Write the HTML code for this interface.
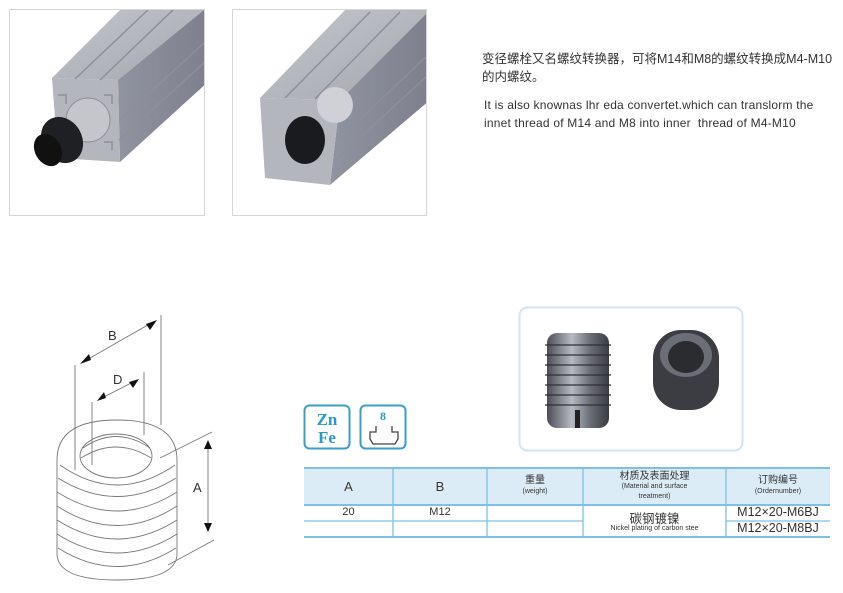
<!DOCTYPE html>
<html><head><meta charset="utf-8"><style>
body{margin:0;width:843px;height:593px;background:#fff;position:relative;overflow:hidden;font-family:"Liberation Sans","Noto Sans CJK SC",sans-serif;}
.t{position:absolute;color:#333;white-space:nowrap}
</style></head><body>
<svg width="843" height="593" style="position:absolute;left:0;top:0">
<defs>
<linearGradient id="g1" x1="0" y1="0" x2="1" y2="1"><stop offset="0" stop-color="#c4c7cd"/><stop offset="1" stop-color="#a3a6ae"/></linearGradient>
<linearGradient id="g2" x1="0" y1="0" x2="1" y2="0"><stop offset="0" stop-color="#9093a0"/><stop offset="1" stop-color="#7d808c"/></linearGradient>
<linearGradient id="sc" x1="0" y1="0" x2="1" y2="0"><stop offset="0" stop-color="#4a4d55"/><stop offset=".4" stop-color="#b7bac2"/><stop offset=".7" stop-color="#6a6d75"/><stop offset="1" stop-color="#3a3c42"/></linearGradient>
<clipPath id="c1"><rect x="10" y="10" width="194" height="205"/></clipPath>
<clipPath id="c2"><rect x="233" y="10" width="193" height="205"/></clipPath>
</defs>
<rect x="9.5" y="9.5" width="195" height="206" fill="#fff" stroke="#d6d6d6"/>
<rect x="232.5" y="9.5" width="194" height="206" fill="#fff" stroke="#d6d6d6"/>
<g clip-path="url(#c1)">
<polygon points="52,78 125,5 210,5 118,80" fill="url(#g1)"/>
<polygon points="118,80 210,5 210,80 120,162" fill="url(#g2)"/>
<polygon points="52,78 118,80 120,162 58,158" fill="#b3b6bc"/>
<g stroke="#8d9098" stroke-width="1.5" fill="none">
<line x1="75" y1="79" x2="150" y2="8"/><line x1="100" y1="80" x2="175" y2="8"/>
<line x1="120" y1="120" x2="205" y2="42"/><line x1="119" y1="140" x2="205" y2="62"/>
<polyline points="58,95 66,95 66,104"/><polyline points="104,95 112,95 112,104"/><polyline points="60,142 68,142 68,150"/><polyline points="104,142 112,142 112,150"/>
</g>
<circle cx="88" cy="120" r="22" fill="#c4c6cc" stroke="#8d9098"/>
<ellipse cx="62" cy="140" rx="20" ry="24" fill="#1f2024" transform="rotate(-30 62 140)"/>
<ellipse cx="48" cy="150" rx="13" ry="17" fill="#111" transform="rotate(-30 48 150)"/>
</g>
<g clip-path="url(#c2)">
<polygon points="260,98 345,10 430,10 340,100" fill="url(#g1)"/>
<polygon points="340,100 430,10 430,100 330,185" fill="url(#g2)"/>
<polygon points="260,98 340,100 330,185 265,178" fill="#b3b6bc"/>
<g stroke="#8d9098" stroke-width="1.5" fill="none">
<line x1="285" y1="98" x2="370" y2="12"/><line x1="315" y1="99" x2="400" y2="12"/>
<line x1="338" y1="140" x2="428" y2="55"/><line x1="336" y1="160" x2="428" y2="75"/>
</g>
<circle cx="335" cy="105" r="18" fill="#cfd1d6"/>
<ellipse cx="305" cy="140" rx="20" ry="24" fill="#1a1b1f"/>
</g>
<rect x="519.5" y="307.5" width="223" height="143" rx="8" fill="#fff" stroke="#cfe6f2" stroke-width="2"/>
<rect x="547" y="333" width="62" height="95" rx="10" fill="url(#sc)"/>
<g stroke="#2c2e33" stroke-width="2" opacity=".6">
<line x1="545" y1="345" x2="611" y2="345"/><line x1="545" y1="355" x2="611" y2="355"/><line x1="545" y1="365" x2="611" y2="365"/><line x1="545" y1="375" x2="611" y2="375"/><line x1="545" y1="385" x2="611" y2="385"/><line x1="545" y1="395" x2="611" y2="395"/><line x1="545" y1="405" x2="611" y2="405"/></g>
<rect x="575" y="410" width="5" height="18" fill="#222"/>
<rect x="653" y="330" width="66" height="80" rx="28" fill="#3b3d43"/>
<ellipse cx="686" cy="355" rx="26" ry="22" fill="#6b6e76"/>
<ellipse cx="686" cy="357" rx="18" ry="16" fill="#2a2c30"/>
<rect x="304.5" y="405.5" width="45" height="43" rx="5" fill="#fff" stroke="#3a9fc8" stroke-width="2"/>
<text x="327" y="425" text-anchor="middle" font-family="Liberation Serif,serif" font-weight="bold" font-size="17" fill="#2a9bc8">Zn</text>
<text x="327" y="443" text-anchor="middle" font-family="Liberation Serif,serif" font-weight="bold" font-size="17" fill="#2a9bc8">Fe</text>
<rect x="360.5" y="405.5" width="45" height="43" rx="5" fill="#fff" stroke="#3a9fc8" stroke-width="2"/>
<text x="383" y="420" text-anchor="middle" font-family="Liberation Serif,serif" font-weight="bold" font-size="12" fill="#2a9bc8">8</text>
<path d="M376 426 v6 h-6 v7 l3 5 h22 l3 -5 v-7 h-6 v-6" fill="none" stroke="#444" stroke-width="1.3"/>
<rect x="304" y="468" width="526" height="37" fill="#dcecf7"/>
<g stroke="#7cc0e4" stroke-width="1.3">
<line x1="304" y1="468" x2="830" y2="468" stroke-width="2"/>
<line x1="304" y1="505" x2="830" y2="505" stroke-width="2"/>
<line x1="304" y1="521" x2="583" y2="521"/>
<line x1="726" y1="521" x2="830" y2="521"/>
<line x1="304" y1="537" x2="830" y2="537" stroke-width="2"/>
<line x1="393" y1="468" x2="393" y2="537"/><line x1="487" y1="468" x2="487" y2="537"/><line x1="583" y1="468" x2="583" y2="537"/><line x1="726" y1="468" x2="726" y2="537"/>
</g>
<g fill="none" stroke="#777" stroke-width="0.9">
<path d="M57 460 Q57 420 117 420 Q177 420 177 460 L177 555 Q175 580 117 580 Q59 580 57 555 Z" fill="#fff"/>
<path d="M60 465 Q117 505 175 465"/><path d="M58 478 Q117 515 176 478"/><path d="M57 492 Q117 530 177 492"/><path d="M57 506 Q117 545 177 506"/><path d="M57 520 Q117 558 177 520"/><path d="M57 534 Q117 572 177 534"/><path d="M58 548 Q117 585 176 548"/>
<ellipse cx="116" cy="456" rx="36" ry="22"/>
<path d="M83 448 Q116 425 150 448"/><path d="M81 458 Q116 436 151 458"/>
<line x1="75" y1="365" x2="75" y2="470"/><line x1="161" y1="315" x2="161" y2="425"/>
<line x1="92" y1="402" x2="92" y2="465"/><line x1="144" y1="372" x2="144" y2="435"/>
<line x1="83" y1="362" x2="153" y2="322"/><line x1="100" y1="399" x2="135" y2="381"/>
<line x1="160" y1="458" x2="212" y2="432"/><line x1="168" y1="565" x2="214" y2="540"/>
<line x1="208" y1="442" x2="208" y2="530"/>
</g>
<g fill="#111">
<polygon points="80,364 89,354 91,360"/><polygon points="157,320 146,324 150,330"/>
<polygon points="97,401 104,392 106,398"/><polygon points="139,379 129,382 133,388"/>
<polygon points="208,440 204,449 212,449"/><polygon points="208,532 204,523 212,523"/>
</g>
<text x="108" y="340" font-size="13" fill="#333" font-family="Liberation Sans,sans-serif">B</text>
<text x="113" y="384" font-size="13" fill="#333" font-family="Liberation Sans,sans-serif">D</text>
<text x="193" y="492" font-size="13" fill="#333" font-family="Liberation Sans,sans-serif">A</text>
</svg>
<div class="t" style="left:482px;top:50px;font-size:12.5px;line-height:18px;">变径螺栓又名螺纹转换器，可将M14和M8的螺纹转换成M4-M10<br>的内螺纹。</div>
<div class="t" style="left:484px;top:96px;font-size:12px;line-height:18px;letter-spacing:0.2px">It is also knownas lhr eda convertet.which can translorm the<br>innet thread of M14 and M8 into inner&nbsp; thread of M4-M10</div>
<div class="t" style="left:304px;width:89px;top:479px;text-align:center;font-size:13px">A</div>
<div class="t" style="left:393px;width:94px;top:479px;text-align:center;font-size:13px">B</div>
<div class="t" style="left:487px;width:96px;top:476px;text-align:center;font-size:10px;line-height:10px">重量<br><span style="font-size:7px">(weight)</span></div>
<div class="t" style="left:583px;width:143px;top:472px;text-align:center;font-size:10px;line-height:9px">材质及表面处理<br><span style="font-size:7px">(Material and surface<br>treatment)</span></div>
<div class="t" style="left:726px;width:104px;top:476px;text-align:center;font-size:10px;line-height:10px">订购编号<br><span style="font-size:7px">(Ordernumber)</span></div>
<div class="t" style="left:304px;width:89px;top:506px;text-align:center;font-size:11px">20</div>
<div class="t" style="left:393px;width:94px;top:506px;text-align:center;font-size:11px">M12</div>
<div class="t" style="left:583px;width:143px;top:508px;text-align:center;font-size:12.5px">碳钢镀镍</div>
<div class="t" style="left:583px;width:143px;top:525px;text-align:center;font-size:7px">Nickel plating of carbon stee</div>
<div class="t" style="left:726px;width:104px;top:505px;text-align:center;font-size:12.5px">M12×20-M6BJ</div>
<div class="t" style="left:726px;width:104px;top:521px;text-align:center;font-size:12.5px">M12×20-M8BJ</div>
</body></html>
